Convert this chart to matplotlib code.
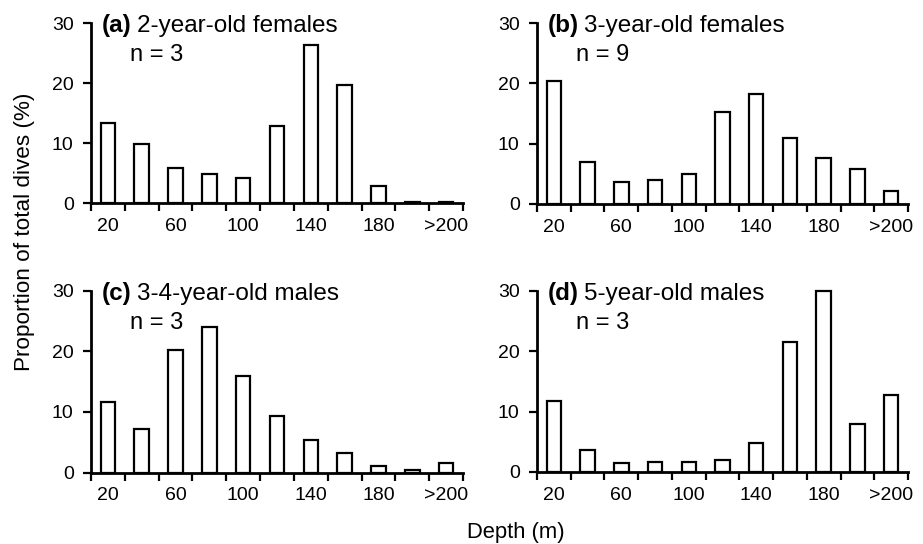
import matplotlib
matplotlib.use("Agg")

import matplotlib.pyplot as plt
import numpy as np

plt.rcParams['font.family'] = ['Liberation Sans', 'DejaVu Sans']

# ------------------------------------------------------------
# DATA (proportion of total dives, %, per 20 m depth bin)
# ------------------------------------------------------------
depth_bins = ["20", "40", "60", "80", "100", "120", "140", "160", "180", "200", ">200"]
tick_labels = ["20", "60", "100", "140", "180", ">200"]

females_2yr = [13.3, 9.9, 5.8, 4.8, 4.1, 12.8, 26.4, 19.7, 2.8, 0.1, 0.15]
females_3yr = [20.4, 6.9, 3.6, 4.0, 5.0, 15.3, 18.3, 10.9, 7.7, 5.8, 2.1]
males_34yr = [11.7, 7.2, 20.2, 24.0, 15.9, 9.3, 5.4, 3.2, 1.0, 0.45, 1.5]
males_5yr = [11.8, 3.7, 1.5, 1.6, 1.6, 2.0, 4.75, 21.5, 30.0, 8.0, 12.7]

panel_tags = ["(a)", "(b)", "(c)", "(d)"]
panel_names = ["2-year-old females", "3-year-old females",
               "3-4-year-old males", "5-year-old males"]
sample_sizes = [3, 9, 3, 3]

# ------------------------------------------------------------
# FIGURE
# ------------------------------------------------------------
W, H = 923, 544
fig = plt.figure(figsize=(W / 100, H / 100), dpi=100)

# axes boxes in pixels: (left, right, zero line, top)
boxes = [(91, 463, 203, 23), (537, 908, 204, 23),
         (91, 463, 472.5, 290.5), (537, 908, 472, 290.5)]
series = [females_2yr, females_3yr, males_34yr, males_5yr]

x = np.arange(len(depth_bins))
edges = np.arange(len(depth_bins) + 1) - 0.5
label_pos = x[::2]

for i in range(4):
    l, r, b, t = boxes[i]
    ax = fig.add_axes([l / W, 1 - b / H, (r - l) / W, (b - t) / H])

    ax.bar(x, series[i], width=0.43, color="white", edgecolor="black",
           linewidth=1.6, zorder=2, clip_on=False)

    ax.set_xlim(-0.5, len(depth_bins) - 0.5)
    ax.set_ylim(0, 30)

    # tick marks at bin edges, labels under every other bin
    ax.set_xticks(edges)
    ax.set_xticklabels([])
    ax.set_xticks(label_pos, minor=True)
    ax.set_xticklabels(tick_labels, minor=True)
    ax.tick_params(axis="x", which="major", length=6, width=1.6, direction="out")
    ax.tick_params(axis="x", which="minor", length=0, pad=10.5, labelsize=14)

    ax.set_yticks([0, 10, 20, 30])
    ax.tick_params(axis="y", length=6, width=1.6, direction="out",
                   labelsize=14, pad=6.5)

    for side in ["top", "right"]:
        ax.spines[side].set_visible(False)
    for side in ["left", "bottom"]:
        ax.spines[side].set_linewidth(2.0)
    ax.set_facecolor("none")

    tag = ax.text(0.03, 0.95, panel_tags[i], transform=ax.transAxes,
                  fontsize=17.5, fontweight="bold", ha="left", va="baseline")
    fig.canvas.draw()
    bb = tag.get_window_extent()
    x_after = ax.transAxes.inverted().transform((bb.x1, bb.y0))[0]
    ax.text(x_after + 0.014, 0.95, panel_names[i], transform=ax.transAxes,
            fontsize=17.5, ha="left", va="baseline")
    ax.text(0.105, 0.79, "n = %d" % sample_sizes[i], transform=ax.transAxes,
            fontsize=17, ha="left", va="baseline")

fig.text(25 / W, 1 - 232 / H, "Proportion of total dives (%)", rotation=90,
         ha="center", va="center", fontsize=16.2)
fig.text(516 / W, 1 - 538 / H, "Depth (m)", ha="center", va="baseline",
         fontsize=15.8)

fig.savefig("out.png", dpi=100)
